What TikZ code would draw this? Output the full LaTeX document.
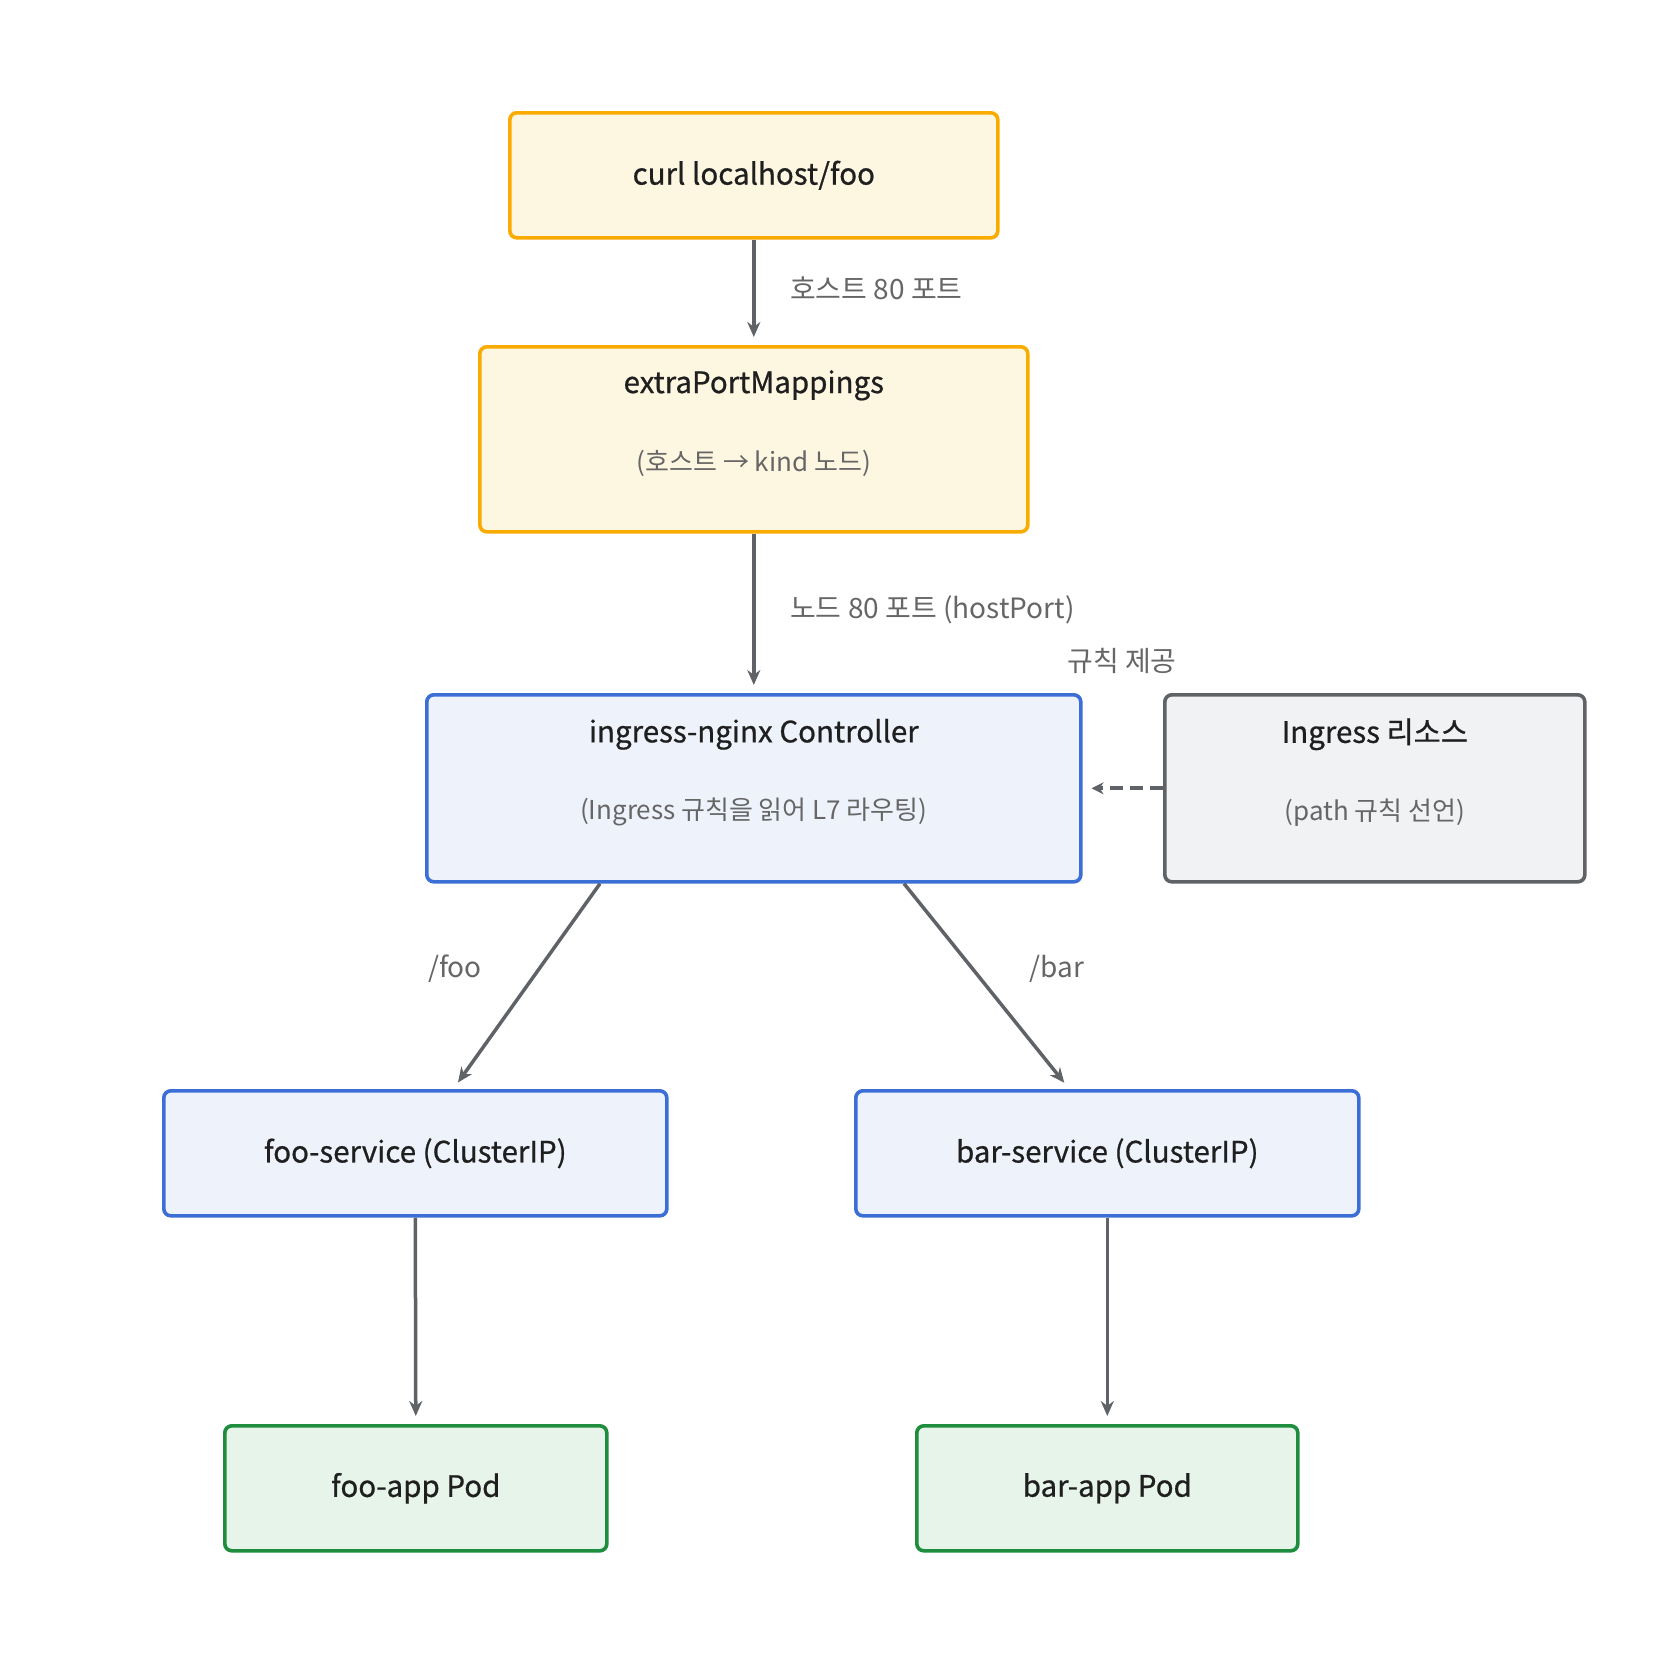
\documentclass[tikz,border=0pt]{standalone}
\usepackage{fontspec}
\setmainfont{Noto Sans CJK KR}
\newfontfamily\ttlfont{Noto Sans CJK KR}[FakeBold=0.7]
\usetikzlibrary{arrows.meta,calc}
\definecolor{ybord}{HTML}{F9AB00}
\definecolor{yfill}{HTML}{FDF6E0}
\definecolor{bbord}{HTML}{3C6FD6}
\definecolor{bfill}{HTML}{EEF2FB}
\definecolor{gbord}{HTML}{5F6368}
\definecolor{gfill}{HTML}{F1F2F4}
\definecolor{pbord}{HTML}{1E8E3E}
\definecolor{pfill}{HTML}{E6F4EA}
\definecolor{arr}{HTML}{5F6368}
\definecolor{subtxt}{HTML}{666666}
\definecolor{titletxt}{HTML}{1F1F1F}
\tikzset{
  box/.style={draw, rounded corners=7pt, line width=3.6pt, inner sep=0pt, anchor=north west},
  ybox/.style={box, draw=ybord, fill=yfill},
  bbox/.style={box, draw=bbord, fill=bfill},
  gbox/.style={box, draw=gbord, fill=gfill},
  pbox/.style={box, draw=pbord, fill=pfill},
  ttl/.style={text=titletxt, font=\ttlfont\fontsize{29.5}{33}\selectfont, inner sep=0pt},
  sub/.style={text=subtxt, font=\fontsize{26}{30}\selectfont, inner sep=0pt},
  elab/.style={text=subtxt, font=\fontsize{28}{32}\selectfont, inner sep=0pt},
  flow/.style={draw=arr, line width=3.5pt, -{Stealth[length=15pt,width=13pt]}, shorten >=8pt},
}
\begin{document}
\begin{tikzpicture}[x=1pt,y=-1pt]
\useasboundingbox (0,0) rectangle (1670,1660);
% boxes
\node[ybox, minimum width=488pt, minimum height=125pt] (curl) at (508,111) {};
\node[ybox, minimum width=548pt, minimum height=185pt] (epm) at (478,345) {};
\node[bbox, minimum width=654pt, minimum height=187pt] (ing) at (425,693) {};
\node[gbox, minimum width=420pt, minimum height=187pt] (res) at (1163,693) {};
\node[bbox, minimum width=503pt, minimum height=125pt] (fsvc) at (162,1089) {};
\node[bbox, minimum width=503pt, minimum height=125pt] (bsvc) at (854,1089) {};
\node[pbox, minimum width=382pt, minimum height=125pt] (fpod) at (223,1424) {};
\node[pbox, minimum width=381pt, minimum height=125pt] (bpod) at (915,1424) {};
% texts
\node[ttl] (curlt) at (curl.center) {curl localhost/foo};
\node[ttl] (epmt) at ($(epm.center)+(0,-54)$) {extraPortMappings};
\node[sub] (epms) at ($(epm.center)+(0,24)$) {(호스트 → kind 노드)};
\node[ttl] (ingt) at ($(ing.center)+(0,-54)$) {ingress-nginx Controller};
\node[sub] (ings) at ($(ing.center)+(0,24)$) {(Ingress 규칙을 읽어 L7 라우팅)};
\node[ttl] (rest) at ($(res.center)+(0,-54)$) {Ingress 리소스};
\node[sub] (ress) at ($(res.center)+(0,24)$) {(path 규칙 선언)};
\node[ttl] (fsvct) at (fsvc.center) {foo-service (ClusterIP)};
\node[ttl] (bsvct) at (bsvc.center) {bar-service (ClusterIP)};
\node[ttl] (fpodt) at (fpod.center) {foo-app Pod};
\node[ttl] (bpodt) at (bpod.center) {bar-app Pod};
% connectors
\draw[flow] (curl.south) -- (epm.north);
\draw[flow] (epm.south) -- (ing.north);
\draw[flow] ($(ing.south west)+(175,0)$) -- ($(fsvc.north)+(38,0)$);
\draw[flow] ($(ing.south west)+(479,0)$) -- ($(bsvc.north)+(-38,0)$);
\draw[flow] (fsvc.south) -- (fpod.north);
\draw[flow] (bsvc.south) -- (bpod.north);
\draw[draw=arr, line width=4pt, dash pattern=on 13pt off 7pt, -{Stealth[length=12pt,width=12pt]}, shorten >=9pt] (res.west) -- (ing.east);
% edge labels
\node[elab, anchor=west] (l1) at (790,288) {호스트 80 포트};
\node[elab, anchor=west] (l2) at (790,610) {노드 80 포트 (hostPort)};
\node[elab] (l3) at (1122,661) {규칙 제공};
\node[elab] (l4) at (455,969) {/foo};
\node[elab] (l5) at (1057,969) {/bar};
\end{tikzpicture}
\end{document}
